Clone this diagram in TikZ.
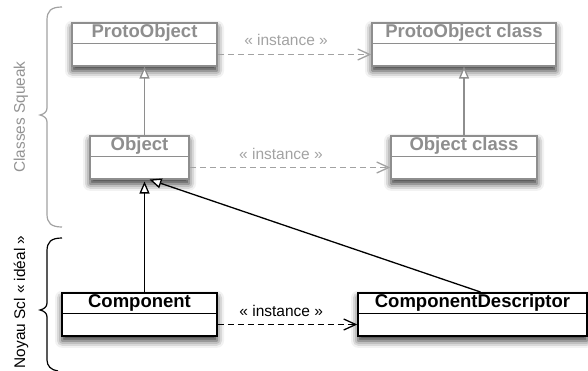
\documentclass[tikz,border=0pt]{standalone}
\usepackage{fontspec}
\setmainfont{Liberation Sans}
\usetikzlibrary{arrows.meta,calc,shadows.blur}
\definecolor{sqgray}{HTML}{8E8E8E}
\definecolor{sqtext}{HTML}{929292}
\definecolor{sqlight}{HTML}{A2A2A2}
\newcommand\umlclass[6]{% name, color, center x, top y, width, text
  \node[clsbox, draw=#2, minimum width=#5, anchor=north] (#1) at (#3,#4) {};
  \node[clsname, text=#2, minimum width=#5, anchor=north] (#1n) at (#1.north) {#6};
  \draw[line width=1.5pt, draw=#2] (#1n.south west) -- (#1n.south east);
}
\begin{document}
\begin{tikzpicture}[x=1pt,y=-1pt,
  clsbox/.style={fill=white, line width=1.5pt, minimum height=43, inner sep=0pt,
    blur shadow={shadow xshift=0pt, shadow yshift=-5pt, shadow blur radius=7pt, shadow opacity=80}},
  clsname/.style={minimum height=21, inner sep=0pt, font=\bfseries\fontsize{18.5}{20}\selectfont},
  lbl/.style={inner sep=0pt, font=\fontsize{15.5}{17}\selectfont},
  inherit/.style={line width=1.3pt, -{Triangle[open, fill=white, length=12pt, width=10pt]}},
  inst/.style={line width=1.3pt, dash pattern=on 6pt off 4pt, -{Straight Barb[length=12pt, width=11pt, line width=1.3pt]}},
  brace/.style={line width=1.2pt},
  side/.style={rotate=90, font=\fontsize{15.4}{17}\selectfont}]
\useasboundingbox (0,0) rectangle (588,370);

% braces
\draw[brace, draw=sqlight] (62,7) .. controls (51,7) and (47,11) .. (47,20) -- (47,108)
  .. controls (47,112) and (44,114) .. (40,115) .. controls (44,116) and (47,118) .. (47,122)
  -- (47,214) .. controls (47,223) and (51,227) .. (62,227);
\draw[brace, draw=black] (62,238) .. controls (51,238) and (47,242) .. (47,251) -- (47,303)
  .. controls (47,307) and (44,309) .. (40,310) .. controls (44,311) and (47,313) .. (47,317)
  -- (47,360) .. controls (47,366) and (51,370) .. (58,371);
\node[side, text=sqtext] (cs) at (21,117) {Classes Squeak};
\node[side, text=black] (ns) at (21,302) {Noyau Scl « idéal »};

% classes
\umlclass{PO}{sqgray}{144.5}{22}{145}{ProtoObject}
\umlclass{POC}{sqgray}{464}{22}{184}{ProtoObject class}
\umlclass{Obj}{sqgray}{139.5}{135}{99}{Object}
\umlclass{ObjC}{sqgray}{464}{135}{146}{Object class}
\umlclass{Comp}{black}{139.5}{292}{155}{Component}
\umlclass{CD}{black}{472.5}{292}{229}{ComponentDescriptor}

% inheritance
\draw[inherit, draw=sqgray] (Obj.north -| PO.south) -- (PO.south);
\draw[inherit, draw=sqgray] (ObjC.north) -- (POC.south);
\draw[inherit] (Comp.north -| PO.south) -- ($(Obj.south -| PO.south)+(0,2)$);
\draw[inherit] ($(CD.north)+(8,0)$) -- ($(Obj.south)+(10,0)$);

% instance
\draw[inst, draw=sqlight] ($(PO.south east)+(0,-12)$) -- ($(POC.south west)+(0,-12)$)
  node[lbl, text=sqlight, pos=0.445, above=8pt] (l1) {« instance »};
\draw[inst, draw=sqlight] ($(Obj.south east)+(0,-12)$) -- ($(ObjC.south west)+(0,-12)$)
  node[lbl, text=sqlight, pos=0.455, above=7pt] (l2) {« instance »};
\draw[inst] ($(Comp.south east)+(0,-12)$) -- ($(CD.south west)+(0,-12)$)
  node[lbl, pos=0.455, above=7pt] (l3) {« instance »};
\end{tikzpicture}
\end{document}
